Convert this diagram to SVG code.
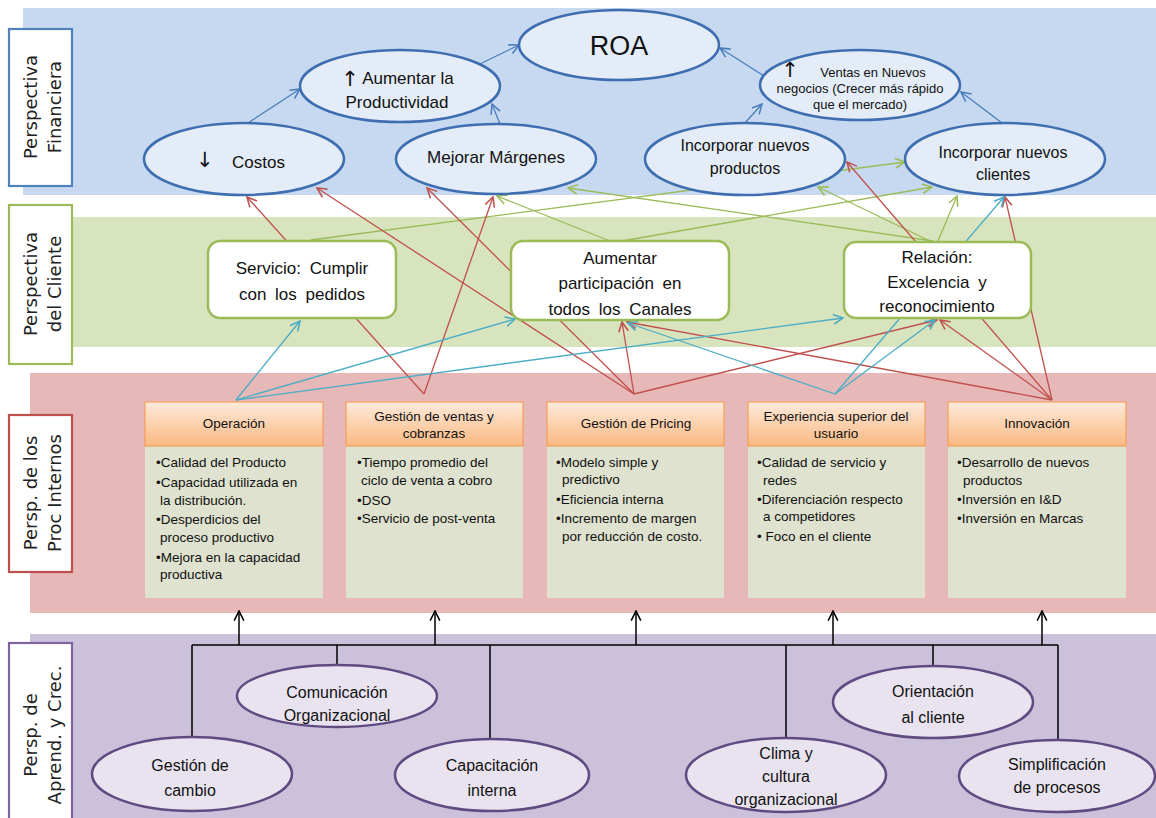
<svg xmlns="http://www.w3.org/2000/svg" width="1156" height="818" viewBox="0 0 1156 818">
<style>
.band{stroke:none}
.lbl{fill:#fff;stroke-width:2.2}
.lt{font-family:"DejaVu Sans",sans-serif;font-size:18px;fill:#222;text-anchor:middle}
.fe{fill:#E4ECF7;stroke:#3F6EB0;stroke-width:2.5}
.pe{fill:#E9E3F0;stroke:#5F4B82;stroke-width:2.5}
.cb{fill:#fff;stroke:#9BBB59;stroke-width:2.5}
.t{font-family:"Liberation Sans","DejaVu Sans",sans-serif;fill:#111;text-anchor:middle}
.ar{font-family:"DejaVu Sans",sans-serif;font-size:21px}
.f17{font-size:17px}
.f16{font-size:16px}
.f13{font-size:13px}
.c17{font-size:17px;word-spacing:4px}
.hd{fill:url(#hg);stroke:#F79646;stroke-width:1}
.bd{fill:#DEE2CE}
.ht{font-family:"Liberation Sans",sans-serif;font-size:13.5px;fill:#111;text-anchor:middle}
.bt{font-family:"Liberation Sans",sans-serif;font-size:13.5px;fill:#111}
.cn line{fill:none;stroke-width:1.3}
.bl{stroke:#4A7EBB;marker-end:url(#mB)}
.gr{stroke:#9BBB59;marker-end:url(#mG)}
.rd{stroke:#C0504D;marker-end:url(#mR)}
.cy{stroke:#4BACC6;marker-end:url(#mC)}
.tree line{stroke:#000;stroke-width:1.5}
.up{marker-end:url(#mK)}
</style>
<defs>
<linearGradient id="hg" x1="0" y1="0" x2="0" y2="1">
<stop offset="0" stop-color="#FDEADA"/>
<stop offset="1" stop-color="#FAB982"/>
</linearGradient>
<marker id="mB" markerUnits="userSpaceOnUse" markerWidth="12" markerHeight="12" viewBox="0 0 10 10" refX="9" refY="5" orient="auto"><path d="M1,1 L9,5 L1,9" fill="none" stroke="#4A7EBB" stroke-width="1.3"/></marker>
<marker id="mG" markerUnits="userSpaceOnUse" markerWidth="12" markerHeight="12" viewBox="0 0 10 10" refX="9" refY="5" orient="auto"><path d="M1,1 L9,5 L1,9" fill="none" stroke="#9BBB59" stroke-width="1.3"/></marker>
<marker id="mR" markerUnits="userSpaceOnUse" markerWidth="12" markerHeight="12" viewBox="0 0 10 10" refX="9" refY="5" orient="auto"><path d="M1,1 L9,5 L1,9" fill="none" stroke="#C0504D" stroke-width="1.3"/></marker>
<marker id="mC" markerUnits="userSpaceOnUse" markerWidth="12" markerHeight="12" viewBox="0 0 10 10" refX="9" refY="5" orient="auto"><path d="M1,1 L9,5 L1,9" fill="none" stroke="#4BACC6" stroke-width="1.3"/></marker>
<marker id="mK" markerUnits="userSpaceOnUse" markerWidth="12" markerHeight="12" viewBox="0 0 10 10" refX="9" refY="5" orient="auto"><path d="M1,1 L9,5 L1,9" fill="none" stroke="#000" stroke-width="1.3"/></marker>
</defs>
<rect width="1156" height="818" fill="#fff"/>
<g id="bands">
<rect class="band" x="23" y="8" width="1133" height="187" fill="#C6D9F0"/>
<rect class="band" x="22" y="217" width="1134" height="130" fill="#D7E4BD"/>
<rect class="band" x="30" y="373" width="1126" height="240" fill="#E6B9B8"/>
<rect class="band" x="30" y="634" width="1126" height="184" fill="#CCC1DA"/>
</g>
<g id="labels">
<rect class="lbl" x="9" y="29" width="63" height="157" stroke="#4F81BD"/>
<text class="lt" transform="rotate(-90)"><tspan x="-107" y="37">Perspectiva</tspan><tspan x="-107" y="61">Financiera</tspan></text>
<rect class="lbl" x="9" y="205" width="63" height="159" stroke="#9BBB59"/>
<text class="lt" transform="rotate(-90)"><tspan x="-284" y="37">Perspectiva</tspan><tspan x="-284" y="61">del Cliente</tspan></text>
<rect class="lbl" x="9" y="415" width="63" height="157" stroke="#C0504D"/>
<text class="lt" transform="rotate(-90)"><tspan x="-493" y="37">Persp. de los</tspan><tspan x="-493" y="61">Proc Internos</tspan></text>
<rect class="lbl" x="9" y="643" width="63" height="190" stroke="#8064A2"/>
<text class="lt" transform="rotate(-90)"><tspan x="-735" y="37">Persp. de</tspan><tspan x="-735" y="61">Aprend. y Crec.</tspan></text>
</g>
<g id="connectors" class="cn">
<line class="bl" x1="248" y1="123" x2="300" y2="89"/>
<line class="bl" x1="500" y1="124" x2="492" y2="104"/>
<line class="bl" x1="480" y1="64" x2="519" y2="45"/>
<line class="bl" x1="764" y1="76" x2="720" y2="48"/>
<line class="bl" x1="745" y1="123" x2="762" y2="104"/>
<line class="bl" x1="1002" y1="123" x2="961" y2="92"/>
<line class="gr" x1="311" y1="240" x2="905" y2="162"/>
<line class="gr" x1="610" y1="241" x2="497" y2="196"/>
<line class="gr" x1="933" y1="241" x2="568" y2="188"/>
<line class="gr" x1="930" y1="241" x2="818" y2="187"/>
<line class="gr" x1="622" y1="241" x2="932" y2="187"/>
<line class="gr" x1="938" y1="241" x2="957" y2="196"/>
<line class="rd" x1="424" y1="394" x2="247" y2="197"/>
<line class="rd" x1="634" y1="394" x2="317" y2="188"/>
<line class="rd" x1="634" y1="394" x2="427" y2="188"/>
<line class="rd" x1="424" y1="394" x2="493" y2="197"/>
<line class="rd" x1="634" y1="394" x2="622" y2="322"/>
<line class="rd" x1="634" y1="394" x2="937" y2="320"/>
<line class="rd" x1="1052" y1="400" x2="627" y2="322"/>
<line class="rd" x1="1052" y1="400" x2="940" y2="320"/>
<line class="rd" x1="1052" y1="400" x2="847" y2="162"/>
<line class="rd" x1="1052" y1="400" x2="1005" y2="197"/>
<line class="cy" x1="236" y1="400" x2="300" y2="321"/>
<line class="cy" x1="236" y1="400" x2="515" y2="319"/>
<line class="cy" x1="236" y1="400" x2="843" y2="318"/>
<line class="cy" x1="835" y1="394" x2="628" y2="323"/>
<line class="cy" x1="835" y1="394" x2="935" y2="320"/>
<line class="cy" x1="835" y1="394" x2="1004" y2="197"/>
</g>
<g id="tree" class="tree">
<line x1="192" y1="645" x2="1058" y2="645"/>
<line x1="192" y1="645" x2="192" y2="737"/>
<line x1="337" y1="645" x2="337" y2="665"/>
<line x1="490" y1="645" x2="490" y2="739"/>
<line x1="786" y1="645" x2="786" y2="738"/>
<line x1="933" y1="645" x2="933" y2="666"/>
<line x1="1058" y1="645" x2="1058" y2="740"/>
<line class="up" x1="239" y1="645" x2="239" y2="611"/>
<line class="up" x1="435" y1="645" x2="435" y2="611"/>
<line class="up" x1="636" y1="645" x2="636" y2="611"/>
<line class="up" x1="833" y1="645" x2="833" y2="611"/>
<line class="up" x1="1042" y1="645" x2="1042" y2="611"/>
</g>
<g id="roa"><ellipse class="fe" cx="619" cy="45" rx="100" ry="35"/><text class="t" x="619" y="55" font-size="27">ROA</text></g>
<g id="productividad"><ellipse class="fe" cx="400" cy="86" rx="100" ry="36"/><text class="t f17"><tspan class="ar" x="350" y="86">↑</tspan><tspan x="408" y="84">Aumentar la</tspan><tspan x="397" y="108">Productividad</tspan></text></g>
<g id="costos"><ellipse class="fe" cx="244" cy="159" rx="100" ry="36"/><text class="t f17" style="text-anchor:start"><tspan class="ar" x="196" y="167">↓</tspan><tspan x="232" y="168">Costos</tspan></text></g>
<g id="margenes"><ellipse class="fe" cx="496" cy="159" rx="100" ry="35"/><text class="t f17" x="496" y="163">Mejorar Márgenes</text></g>
<g id="ventas"><ellipse class="fe" cx="860" cy="85" rx="100" ry="35"/><text class="t f13"><tspan class="ar" x="790" y="77" font-size="14">↑</tspan><tspan x="873" y="77">Ventas en Nuevos</tspan><tspan x="860" y="93">negocios (Crecer más rápido</tspan><tspan x="860" y="109">que el mercado)</tspan></text></g>
<g id="productos"><ellipse class="fe" cx="745" cy="159" rx="100" ry="36"/><text class="t f16"><tspan x="745" y="151">Incorporar nuevos</tspan><tspan x="745" y="174">productos</tspan></text></g>
<g id="clientes"><ellipse class="fe" cx="1005" cy="159" rx="100" ry="36"/><text class="t f16"><tspan x="1003" y="158">Incorporar nuevos</tspan><tspan x="1003" y="180">clientes</tspan></text></g>
<g id="servicio"><rect class="cb" x="208" y="241" width="188" height="77" rx="12"/><text class="t c17"><tspan x="302" y="274">Servicio: Cumplir</tspan><tspan x="302" y="300">con los pedidos</tspan></text></g>
<g id="participacion"><rect class="cb" x="511" y="241" width="218" height="79" rx="12"/><text class="t c17"><tspan x="620" y="264">Aumentar</tspan><tspan x="620" y="289">participación en</tspan><tspan x="620" y="315">todos los Canales</tspan></text></g>
<g id="relacion"><rect class="cb" x="844" y="242" width="187" height="76" rx="12"/><text class="t c17"><tspan x="937" y="263">Relación:</tspan><tspan x="937" y="288">Excelencia y</tspan><tspan x="937" y="312">reconocimiento</tspan></text></g>
<g id="operacion"><rect class="bd" x="145" y="446" width="178" height="152"/><rect class="hd" x="145" y="402" width="178" height="44"/><text class="ht" x="234" y="428">Operación</text>
<text class="bt"><tspan x="156" y="467">•Calidad del Producto</tspan><tspan x="156" y="487">•Capacidad utilizada en</tspan><tspan x="160" y="505">la distribución.</tspan><tspan x="156" y="524">•Desperdicios del</tspan><tspan x="160" y="542">proceso productivo</tspan><tspan x="156" y="562">•Mejora en la capacidad</tspan><tspan x="160" y="579">productiva</tspan></text></g>
<g id="ventas-cobranzas"><rect class="bd" x="346" y="446" width="177" height="152"/><rect class="hd" x="346" y="402" width="177" height="44"/><text class="ht"><tspan x="434" y="421">Gestión de ventas y</tspan><tspan x="434" y="438">cobranzas</tspan></text>
<text class="bt"><tspan x="357" y="467">•Tiempo promedio del</tspan><tspan x="361" y="485">ciclo de venta a cobro</tspan><tspan x="357" y="505">•DSO</tspan><tspan x="357" y="523">•Servicio de post-venta</tspan></text></g>
<g id="pricing"><rect class="bd" x="547" y="446" width="177" height="152"/><rect class="hd" x="547" y="402" width="177" height="44"/><text class="ht" x="636" y="428">Gestión de Pricing</text>
<text class="bt"><tspan x="556" y="467">•Modelo simple y</tspan><tspan x="562" y="484">predictivo</tspan><tspan x="556" y="504">•Eficiencia interna</tspan><tspan x="556" y="523">•Incremento de margen</tspan><tspan x="562" y="541">por reducción de costo.</tspan></text></g>
<g id="experiencia"><rect class="bd" x="748" y="446" width="177" height="152"/><rect class="hd" x="748" y="402" width="177" height="44"/><text class="ht"><tspan x="836" y="421">Experiencia superior del</tspan><tspan x="836" y="438">usuario</tspan></text>
<text class="bt"><tspan x="757" y="467">•Calidad de servicio y</tspan><tspan x="763" y="485">redes</tspan><tspan x="757" y="504">•Diferenciación respecto</tspan><tspan x="763" y="521">a competidores</tspan><tspan x="757" y="541">• Foco en el cliente</tspan></text></g>
<g id="innovacion"><rect class="bd" x="948" y="446" width="178" height="152"/><rect class="hd" x="948" y="402" width="178" height="44"/><text class="ht" x="1037" y="428">Innovación</text>
<text class="bt"><tspan x="957" y="467">•Desarrollo de nuevos</tspan><tspan x="963" y="485">productos</tspan><tspan x="957" y="504">•Inversión en I&amp;D</tspan><tspan x="957" y="523">•Inversión en Marcas</tspan></text></g>
<g id="comunicacion"><ellipse class="pe" cx="337" cy="696" rx="100" ry="31"/><text class="t f16"><tspan x="337" y="698">Comunicación</tspan><tspan x="337" y="721">Organizacional</tspan></text></g>
<g id="gestion-cambio"><ellipse class="pe" cx="192" cy="774" rx="100" ry="37"/><text class="t f16"><tspan x="190" y="771">Gestión de</tspan><tspan x="190" y="796">cambio</tspan></text></g>
<g id="capacitacion"><ellipse class="pe" cx="492" cy="775" rx="97" ry="36"/><text class="t f16"><tspan x="492" y="771">Capacitación</tspan><tspan x="492" y="796">interna</tspan></text></g>
<g id="orientacion"><ellipse class="pe" cx="933" cy="702" rx="100" ry="36"/><text class="t f16"><tspan x="933" y="697">Orientación</tspan><tspan x="933" y="723">al cliente</tspan></text></g>
<g id="clima"><ellipse class="pe" cx="786" cy="775" rx="100" ry="37"/><text class="t f16"><tspan x="786" y="759">Clima y</tspan><tspan x="786" y="782">cultura</tspan><tspan x="786" y="805">organizacional</tspan></text></g>
<g id="simplificacion"><ellipse class="pe" cx="1057" cy="776" rx="98" ry="36"/><text class="t f16"><tspan x="1057" y="770">Simplificación</tspan><tspan x="1057" y="793">de procesos</tspan></text></g>
</svg>
